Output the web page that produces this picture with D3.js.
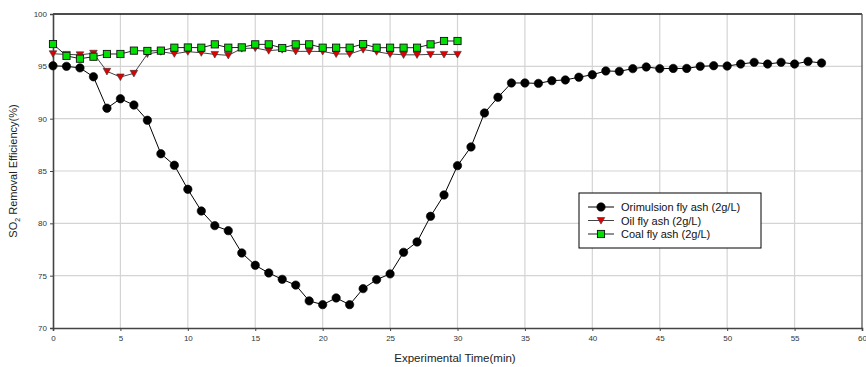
<!DOCTYPE html>
<html>
<head>
<meta charset="utf-8">
<script src="https://cdn.jsdelivr.net/npm/d3@7"></script>
<style>
	body { margin: 0; background: #fff; }
	text { font-family: "Liberation Sans", Arial, sans-serif; }
</style>
</head>
<body>
<div id="chart"></div>
<script>
// data
var timeOrimulsion = [0,1,2,3,4,5,6,7,8,9,10,11,12,13,14,15,16,17,18,19,20,21,22,23,24,25,26,27,28,29,30,31,32,33,34,35,36,37,38,39,40,41,42,43,44,45,46,47,48,49,50,51,52,53,54,55,56,57];
var orimulsion = [95.05,95.0,94.85,94.0,91.0,91.9,91.3,89.85,86.65,85.55,83.25,81.18,79.78,79.3,77.17,75.99,75.26,74.65,74.1,72.59,72.23,72.87,72.23,73.76,74.62,75.17,77.23,78.22,80.67,82.71,85.51,87.3,90.54,92.04,93.41,93.41,93.37,93.63,93.7,93.96,94.2,94.56,94.52,94.78,94.94,94.78,94.8,94.8,95.0,95.06,95.03,95.22,95.38,95.22,95.38,95.22,95.47,95.32];

var timeOil = [0,1,2,3,4,5,6,7,8,9,10,11,12,13,14,15,16,17,18,19,20,21,22,23,24,25,26,27,28,29,30];
var oil = [96.2,96.14,96.1,96.25,94.52,93.98,94.33,96.18,96.4,96.2,96.4,96.3,96.14,96.05,96.7,96.75,96.5,96.6,96.43,96.43,96.42,96.18,96.18,96.6,96.4,96.18,96.1,96.1,96.14,96.14,96.14];

var timeCoal = [0,1,2,3,4,5,6,7,8,9,10,11,12,13,14,15,16,17,18,19,20,21,22,23,24,25,26,27,28,29,30];
var coal = [97.13,96.0,95.73,95.92,96.18,96.18,96.5,96.47,96.5,96.78,96.8,96.78,97.1,96.78,96.81,97.1,97.1,96.75,97.1,97.1,96.78,96.78,96.78,97.13,96.78,96.78,96.78,96.78,97.1,97.42,97.42];

var seriesNames = ["Orimulsion fly ash (2g/L)", "Oil fly ash (2g/L)", "Coal fly ash (2g/L)"];
var xTicks = [0,5,10,15,20,25,30,35,40,45,50,55,60];
var yTicks = [70,75,80,85,90,95,100];

var width = 866, height = 367;
var margin = {left: 53, right: 4, top: 14, bottom: 39};

var svg = d3.select("#chart").append("svg")
	.attr("width", width)
	.attr("height", height);

var x = d3.scaleLinear().domain([0, 60]).range([margin.left, width - margin.right]);
var y = d3.scaleLinear().domain([70, 100]).range([height - margin.bottom, margin.top]);

// grid
var grid = svg.append("g").attr("id", "grid");
grid.selectAll("line.gx")
	.data(xTicks.slice(1, -1))
	.enter().append("line")
	.attr("class", "gx")
	.attr("x1", function(d){ return x(d); })
	.attr("x2", function(d){ return x(d); })
	.attr("y1", y(100))
	.attr("y2", y(70))
	.attr("stroke", "#d4d4d4")
	.attr("stroke-width", 1.2);
grid.selectAll("line.gy")
	.data(yTicks.slice(1, -1))
	.enter().append("line")
	.attr("class", "gy")
	.attr("x1", x(0))
	.attr("x2", x(60))
	.attr("y1", function(d){ return y(d); })
	.attr("y2", function(d){ return y(d); })
	.attr("stroke", "#d4d4d4")
	.attr("stroke-width", 1.2);

// frame
svg.append("line")
	.attr("x1", x(0)).attr("x2", x(60))
	.attr("y1", y(100)).attr("y2", y(100))
	.attr("stroke", "#111").attr("stroke-width", 1.3);
svg.append("line")
	.attr("x1", x(60)).attr("x2", x(60))
	.attr("y1", y(100)).attr("y2", y(70))
	.attr("stroke", "#555").attr("stroke-width", 1.3);

// axes
var xAxis = svg.append("g")
	.attr("transform", "translate(0," + y(70) + ")")
	.call(d3.axisBottom(x).tickValues(xTicks).tickSize(3).tickPadding(4).tickFormat(d3.format("d")));
var yAxis = svg.append("g")
	.attr("transform", "translate(" + x(0) + ",0)")
	.call(d3.axisLeft(y).tickValues(yTicks).tickSize(3).tickPadding(3).tickFormat(d3.format("d")));

[xAxis, yAxis].forEach(function(ax){
	ax.select(".domain").attr("stroke", "#444").attr("stroke-width", 1.6);
	ax.selectAll(".tick line").attr("stroke", "#444");
	ax.selectAll(".tick text")
		.attr("fill", "#333")
		.style("font-family", "'Liberation Sans', Arial, sans-serif")
		.style("font-size", "8px");
});

// axis titles
svg.append("text")
	.attr("x", 455)
	.attr("y", 362)
	.attr("text-anchor", "middle")
	.attr("font-size", "11.5px")
	.attr("fill", "#222")
	.text("Experimental Time(min)");

var ylab = svg.append("text")
	.attr("transform", "translate(17," + y(85) + ") rotate(-90)")
	.attr("text-anchor", "middle")
	.attr("font-size", "11px")
	.attr("fill", "#222");
ylab.append("tspan").text("SO");
ylab.append("tspan").attr("font-size", "7px").attr("dy", 3).text("2");
ylab.append("tspan").attr("dy", -3).text(" Removal Efficiency(%)");

// series
var line = d3.line()
	.x(function(d){ return x(d[0]); })
	.y(function(d){ return y(d[1]); });

function pairs(t, v){
	return t.map(function(d, i){ return [d, v[i]]; });
}

var series = [
	{name: seriesNames[0], data: pairs(timeOrimulsion, orimulsion), stroke: "#000", marker: "circle", fill: "#000"},
	{name: seriesNames[1], data: pairs(timeOil, oil), stroke: "#444", marker: "triangle", fill: "#e00000"},
	{name: seriesNames[2], data: pairs(timeCoal, coal), stroke: "#222", marker: "square", fill: "#00e000"}
];

function drawMarker(g, type, fill){
	if (type == "circle") {
		g.append("circle").attr("r", 4.2).attr("fill", fill).attr("stroke", "#000").attr("stroke-width", 0.6);
	} else if (type == "triangle") {
		g.append("path").attr("d", "M-3.8,-3 L3.8,-3 L0,3.6 Z")
			.attr("fill", fill).attr("stroke", "#333").attr("stroke-width", 0.6);
	} else {
		g.append("rect").attr("x", -3.6).attr("y", -3.6).attr("width", 7.2).attr("height", 7.2)
			.attr("fill", fill).attr("stroke", "#111").attr("stroke-width", 0.9);
	}
}

// orimulsion first, then oil, coal on top
series.forEach(function(s){
	var g = svg.append("g").attr("class", "series");
	g.append("path")
		.datum(s.data)
		.attr("d", line)
		.attr("fill", "none")
		.attr("stroke", s.stroke)
		.attr("stroke-width", 1);
	g.selectAll("g.pt")
		.data(s.data)
		.enter().append("g")
		.attr("class", "pt")
		.attr("transform", function(d){ return "translate(" + x(d[0]) + "," + y(d[1]) + ")"; })
		.each(function(){ drawMarker(d3.select(this), s.marker, s.fill); });
});

// legend
var legend = svg.append("g").attr("transform", "translate(579,193)");
legend.append("rect")
	.attr("width", 182).attr("height", 55)
	.attr("fill", "#fff").attr("stroke", "#000").attr("stroke-width", 1);
series.forEach(function(s, i){
	var row = legend.append("g").attr("transform", "translate(0," + (14 + i * 13.5) + ")");
	row.append("line")
		.attr("x1", 9).attr("x2", 35)
		.attr("stroke", s.stroke).attr("stroke-width", 1);
	var m = row.append("g").attr("transform", "translate(22,0)");
	drawMarker(m, s.marker, s.fill);
	row.append("text")
		.attr("x", 42).attr("y", 4)
		.attr("font-size", "11px")
		.attr("fill", "#111")
		.text(s.name);
});
</script>
</body>
</html>
